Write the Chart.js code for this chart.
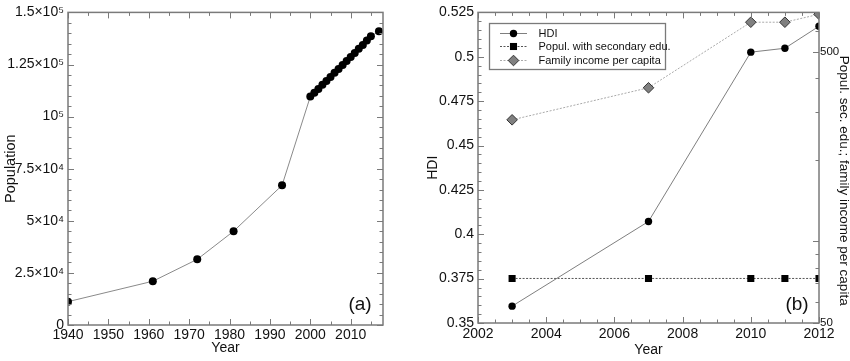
<!DOCTYPE html>
<html><head><meta charset="utf-8">
<script src="https://cdn.jsdelivr.net/npm/chart.js@4/dist/chart.umd.min.js"></script>
<style>
html,body{margin:0;padding:0;background:#fff;}
#wrap{position:relative;width:850px;height:361px;overflow:hidden;}
canvas{position:absolute;top:0;}
#ca{left:0;} #cb{left:425px;}
</style></head><body>
<div id="wrap"><canvas id="ca" width="425" height="361"></canvas><canvas id="cb" width="425" height="361"></canvas></div>
<script>
// ---- Panel (a): population ----
const popYears = [1940,1961,1972,1981,1993,2000,2001,2002,2003,2004,2005,2006,2007,2008,2009,2010,2011,2012,2013,2014,2015,2017];
const popValues = [11200,21000,31500,45000,67000,109600,111400,113300,115300,117100,119000,121000,122800,124800,126700,128600,130500,132500,134400,136500,138500,141000];
const popXTicks = [1940,1950,1960,1970,1980,1990,2000,2010];
const popXTickLabels = ['1940','1950','1960','1970','1980','1990','2000','2010'];
const popYTicks = [0,25000,50000,75000,100000,125000,150000];
const popYTickLabels = ['0','2.5×10⁴','5×10⁴','7.5×10⁴','10⁵','1.25×10⁵','1.5×10⁵'];

// ---- Panel (b): HDI, education, income ----
const hdiYears = [2003,2007,2010,2011,2012];
const hdiValues = [0.3595,0.4072,0.5026,0.5048,0.5172];
const eduValues = [73,73,73,73,73];
const incomeValues = [281,369,644,644,689];
const hdiXTicks = [2002,2004,2006,2008,2010,2012];
const hdiXTickLabels = ['2002','2004','2006','2008','2010','2012'];
const hdiYTicks = [0.35,0.375,0.4,0.425,0.45,0.475,0.5,0.525];
const hdiYTickLabels = ['0.35','0.375','0.4','0.425','0.45','0.475','0.5','0.525'];
const rightTicks = [50,60,70,80,90,100,200,300,400,500,600,700];
const rightTickLabels = ['50','','','','','','','','','500','',''];
const seriesLabels = ['HDI','Popul. with secondary edu.','Family income per capita'];
const rightTitle = 'Popul. sec. edu.; family income per capita';

const FONT = "'Liberation Sans', Arial, sans-serif";
Chart.defaults.font.family = FONT;
Chart.defaults.font.size = 14;
Chart.defaults.color = '#111';
Chart.defaults.animation = false;

function steps(a, b, s) { const r = []; for (let v = a; v <= b + s / 1000; v += s) r.push(+v.toFixed(6)); return r; }

const frameTicks = {
  id: 'frameTicks',
  afterDatasetsDraw(chart, args, o) {
    const ctx = chart.ctx, a = chart.chartArea;
    ctx.save();
    ctx.strokeStyle = '#7a7a7a';
    ctx.lineWidth = 1;
    const line = (x1, y1, x2, y2) => { ctx.beginPath(); ctx.moveTo(x1, y1); ctx.lineTo(x2, y2); ctx.stroke(); };
    for (const t of o.marks) {
      const s = chart.scales[t.scale];
      for (const v of t.values) {
        const p = Math.round(s.getPixelForValue(v)) + 0.5;
        if (t.side === 'bottom') { line(p, a.bottom, p, a.bottom - t.len); if (t.mirror) line(p, a.top, p, a.top + t.len); }
        else if (t.side === 'left') { line(a.left, p, a.left + t.len, p); if (t.mirror) line(a.right, p, a.right - t.len, p); }
        else if (t.side === 'right') { line(a.right, p, a.right - t.len, p); }
      }
    }
    ctx.lineWidth = 1.5;
    ctx.strokeRect(a.left, a.top, a.right - a.left, a.bottom - a.top);
    ctx.fillStyle = '#111';
    if (o.tag) {
      ctx.font = '19px ' + FONT;
      ctx.textAlign = 'center'; ctx.textBaseline = 'middle';
      ctx.fillText(o.tag, a.right - o.tagDx, a.bottom - o.tagDy);
    }
    if (o.sideTitle) {
      ctx.save();
      ctx.font = o.sideTitleSize + 'px ' + FONT;
      ctx.translate(chart.width - o.sideTitleDx, (a.top + a.bottom) / 2 + o.sideTitleDy);
      ctx.rotate(Math.PI / 2);
      ctx.textAlign = 'center'; ctx.textBaseline = 'middle';
      ctx.fillText(o.sideTitle, 0, 0);
      ctx.restore();
    }
    ctx.restore();
  }
};

const boxLegend = {
  id: 'boxLegend',
  afterDraw(chart, args, o) {
    if (!o || !o.show) return;
    const ctx = chart.ctx, a = chart.chartArea;
    const x0 = Math.round(a.left + o.dx) + 0.5, y0 = Math.round(a.top + o.dy) + 0.5;
    ctx.save();
    ctx.fillStyle = '#fff'; ctx.fillRect(x0, y0, o.w, o.h);
    ctx.strokeStyle = '#7a7a7a'; ctx.lineWidth = 1.3; ctx.strokeRect(x0, y0, o.w, o.h);
    chart.data.datasets.forEach((d, i) => {
      const y = Math.round(y0 + o.rowTop + i * o.rowGap) + 0.5;
      ctx.strokeStyle = d.borderColor; ctx.lineWidth = d.borderWidth; ctx.setLineDash(d.borderDash || []);
      ctx.beginPath(); ctx.moveTo(x0 + o.lx1, y); ctx.lineTo(x0 + o.lx2, y); ctx.stroke();
      ctx.setLineDash([]);
      ctx.fillStyle = d.pointBackgroundColor; ctx.strokeStyle = d.pointBorderColor; ctx.lineWidth = d.pointBorderWidth;
      Chart.helpers.drawPoint(ctx, { pointStyle: d.pointStyle, radius: d.pointRadius, borderWidth: d.pointBorderWidth, rotation: 0 }, x0 + (o.lx1 + o.lx2) / 2, y);
      ctx.fillStyle = '#111'; ctx.font = o.fontSize + 'px ' + FONT;
      ctx.textAlign = 'left'; ctx.textBaseline = 'middle';
      ctx.fillText(d.label, x0 + o.tx, y);
    });
    ctx.restore();
  }
};

const fixTicks = (arr) => (scale) => { scale.ticks = arr.map(v => ({ value: v })); };
const fixW = (w) => (scale) => { scale.width = w; };
const fixH = (h) => (scale) => { scale.height = h; };

// ---------- Chart (a) ----------
new Chart(document.getElementById('ca'), {
  type: 'line',
  data: {
    datasets: [{
      label: 'Population',
      data: popYears.map((y, i) => ({ x: y, y: popValues[i] })),
      borderColor: '#8a8a8a', borderWidth: 1,
      pointRadius: 4, pointBackgroundColor: '#000', pointBorderColor: '#000', pointBorderWidth: 0,
      tension: 0
    }]
  },
  options: {
    responsive: false, devicePixelRatio: 1,
    layout: { padding: { top: 12, right: 42, left: 0, bottom: 0 } },
    plugins: {
      legend: { display: false }, tooltip: { enabled: false },
      frameTicks: {
        tag: '(a)', tagDx: 23, tagDy: 20,
        marks: [
          { scale: 'x', side: 'bottom', mirror: true, len: 6, values: popXTicks },
          { scale: 'x', side: 'bottom', mirror: true, len: 3.5, values: steps(1945, 2015, 10) },
          { scale: 'y', side: 'left', mirror: true, len: 6, values: popYTicks },
          { scale: 'y', side: 'left', mirror: true, len: 3.5, values: steps(0, 150000, 5000).filter(v => v % 25000) }
        ]
      }
    },
    scales: {
      x: {
        type: 'linear', min: 1940, max: 2018,
        grid: { display: false, drawTicks: false }, border: { display: false },
        afterBuildTicks: fixTicks(popXTicks), afterFit: fixH(36),
        ticks: { padding: 2, maxRotation: 0, autoSkip: false, callback: (v, i) => popXTickLabels[i] },
        title: { display: true, text: 'Year', padding: { top: 0, bottom: 4 } }
      },
      y: {
        type: 'linear', min: 0, max: 150000,
        grid: { display: false, drawTicks: false }, border: { display: false },
        afterBuildTicks: fixTicks(popYTicks), afterFit: fixW(68),
        ticks: { padding: 4, autoSkip: false, callback: (v, i) => popYTickLabels[i] },
        title: { display: true, text: 'Population', font: { size: 14.5 }, padding: { top: 2, bottom: 0 } }
      }
    }
  },
  plugins: [frameTicks]
});

// ---------- Chart (b) ----------
new Chart(document.getElementById('cb'), {
  type: 'line',
  data: {
    datasets: [
      {
        label: seriesLabels[0], yAxisID: 'y',
        data: hdiYears.map((y, i) => ({ x: y, y: hdiValues[i] })),
        borderColor: '#7f7f7f', borderWidth: 1,
        pointStyle: 'circle', pointRadius: 3.7, pointBackgroundColor: '#000', pointBorderColor: '#000', pointBorderWidth: 0
      },
      {
        label: seriesLabels[1], yAxisID: 'y2',
        data: hdiYears.map((y, i) => ({ x: y, y: eduValues[i] })),
        borderColor: '#555', borderWidth: 1, borderDash: [2, 1.5],
        pointStyle: 'rect', pointRadius: 5, pointBackgroundColor: '#000', pointBorderColor: '#000', pointBorderWidth: 0
      },
      {
        label: seriesLabels[2], yAxisID: 'y2',
        data: hdiYears.map((y, i) => ({ x: y, y: incomeValues[i] })),
        borderColor: '#aaa', borderWidth: 1, borderDash: [2, 1.5],
        pointStyle: 'rectRot', pointRadius: 5.3, pointBackgroundColor: '#808080', pointBorderColor: '#333', pointBorderWidth: 1
      }
    ]
  },
  options: {
    responsive: false, devicePixelRatio: 1,
    layout: { padding: { top: 11, right: 0, left: 0, bottom: 0 } },
    plugins: {
      legend: { display: false }, tooltip: { enabled: false },
      frameTicks: {
        tag: '(b)', tagDx: 22, tagDy: 18,
        sideTitle: rightTitle, sideTitleSize: 13.5, sideTitleDx: 6, sideTitleDy: 13,
        marks: [
          { scale: 'x', side: 'bottom', mirror: true, len: 6, values: hdiXTicks },
          { scale: 'x', side: 'bottom', mirror: true, len: 3.5, values: steps(2002.5, 2011.5, 0.5).filter(v => v % 2) },
          { scale: 'y', side: 'left', mirror: false, len: 6, values: hdiYTicks },
          { scale: 'y', side: 'left', mirror: false, len: 3.5, values: steps(0.35, 0.525, 0.005).filter(v => Math.abs(v / 0.025 - Math.round(v / 0.025)) > 0.01) },
          { scale: 'y2', side: 'right', len: 6, values: [50, 100, 500] },
          { scale: 'y2', side: 'right', len: 3.5, values: rightTicks.filter(v => v !== 50 && v !== 100 && v !== 500) }
        ]
      },
      boxLegend: { show: true, dx: 11, dy: 10.7, w: 176, h: 46, rowTop: 9.5, rowGap: 13.3, lx1: 10.5, lx2: 37.5, tx: 49, fontSize: 11 }
    },
    scales: {
      x: {
        type: 'linear', min: 2002, max: 2012,
        grid: { display: false, drawTicks: false }, border: { display: false },
        afterBuildTicks: fixTicks(hdiXTicks), afterFit: fixH(38),
        ticks: { padding: 3, maxRotation: 0, autoSkip: false, callback: (v, i) => hdiXTickLabels[i] },
        title: { display: true, text: 'Year', padding: { top: 0, bottom: 2 } }
      },
      y: {
        type: 'linear', position: 'left', min: 0.35, max: 0.525,
        grid: { display: false, drawTicks: false }, border: { display: false },
        afterBuildTicks: fixTicks(hdiYTicks), afterFit: fixW(53),
        ticks: { padding: 4, autoSkip: false, callback: (v, i) => hdiYTickLabels[i] },
        title: { display: true, text: 'HDI', padding: { top: 0, bottom: 0 } }
      },
      y2: {
        type: 'logarithmic', position: 'right', min: 50, max: 700,
        grid: { display: false, drawTicks: false }, border: { display: false },
        afterBuildTicks: fixTicks(rightTicks), afterFit: fixW(31),
        ticks: { padding: 1, autoSkip: false, font: { size: 11.5 }, callback: (v, i) => rightTickLabels[i] },
        title: { display: false }
      }
    }
  },
  plugins: [frameTicks, boxLegend]
});
</script>
</body></html>
